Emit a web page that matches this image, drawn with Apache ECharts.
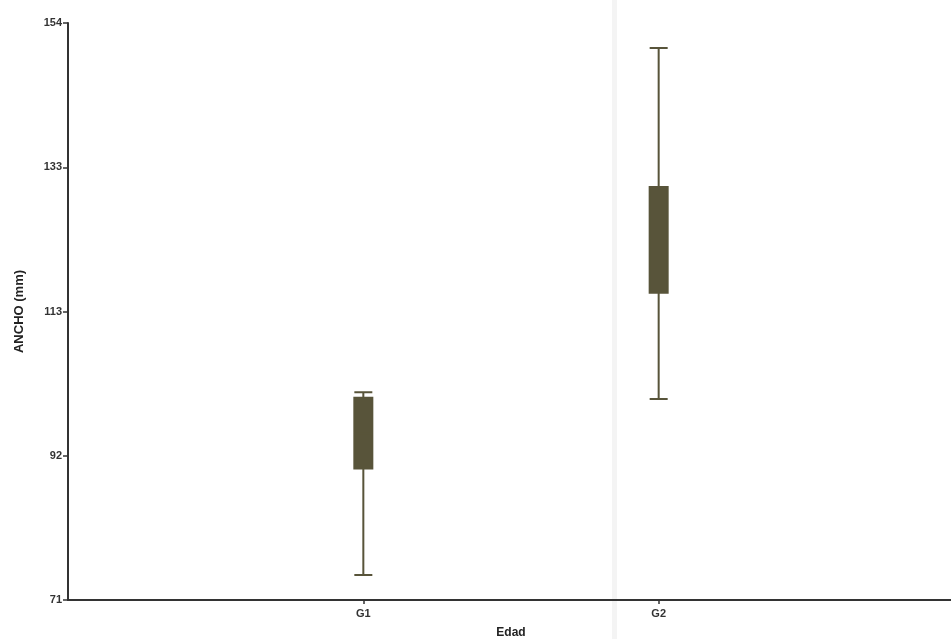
<!DOCTYPE html>
<html>
<head>
<meta charset="utf-8">
<script src="https://cdn.jsdelivr.net/npm/echarts@6/dist/echarts.min.js"></script>
<style>html,body{margin:0;padding:0;background:#fff}#c{width:951px;height:639px}</style>
</head>
<body>
<div id="c"></div>
<script>
// Categories (empty slots pad the axis so G1/G2 sit at 1/3 and 2/3)
const categories = ['', 'G1', 'G2', ''];
// Box values: [categoryIndex, min, Q1, median, Q3, max]
const g1Box = [1, 74.6, 89.9, 95.0, 100.1, 100.9];
const g2Box = [2, 99.9, 115.2, 123.0, 130.4, 150.4];
// Y axis ticks
const yTickValues = [71, 91.75, 112.5, 133.25, 154];
const yTickLabels = ['71', '92', '113', '133', '154'];

const chart = echarts.init(document.getElementById('c'), null, {renderer: 'canvas'});
const font = 'Liberation Sans, Arial, sans-serif';
const boxColor = '#58543a';
chart.setOption({
  animation: false,
  backgroundColor: '#ffffff',
  graphic: [{
    type: 'rect', z: -10, silent: true,
    shape: {x: 612, y: 0, width: 5, height: 639},
    style: {fill: '#f4f4f4'}
  }],
  grid: {left: 68, top: 23, right: -3, bottom: 39, containLabel: false, outerBoundsMode: 'none'},
  xAxis: {
    type: 'category',
    data: categories,
    boundaryGap: false,
    name: 'Edad',
    nameLocation: 'middle',
    nameGap: 27,
    nameTextStyle: {fontFamily: font, fontWeight: 'bold', fontSize: 12, color: '#222'},
    axisLine: {lineStyle: {color: '#333', width: 2}},
    axisTick: {show: true, length: 4, lineStyle: {color: '#333', width: 1.5},
      interval: function (i, v) { return v !== ''; }},
    axisLabel: {fontFamily: font, fontWeight: 'bold', fontSize: 11, color: '#333', margin: 8,
      interval: function (i, v) { return v !== ''; }},
    splitLine: {show: false}
  },
  yAxis: {
    type: 'value',
    min: 71,
    max: 154,
    name: 'ANCHO (mm)',
    nameLocation: 'middle',
    nameGap: 42,
    nameRotate: 90,
    nameTextStyle: {fontFamily: font, fontWeight: 'bold', fontSize: 13, color: '#222'},
    axisLine: {show: true, lineStyle: {color: '#333', width: 2}},
    axisTick: {show: true, length: 5, lineStyle: {color: '#333', width: 1.5}, customValues: yTickValues},
    axisLabel: {fontFamily: font, fontWeight: 'bold', fontSize: 11, color: '#333', margin: 6,
      customValues: yTickValues,
      formatter: function (v) {
        const i = yTickValues.findIndex(t => Math.abs(t - v) < 1e-6);
        return i >= 0 ? yTickLabels[i] : '';
      }},
    splitLine: {show: false}
  },
  series: [{
    type: 'boxplot',
    data: [g1Box, g2Box],
    encode: {x: 0, y: [1, 2, 3, 4, 5]},
    boxWidth: [18, 18],
    itemStyle: {color: boxColor, borderColor: boxColor, borderWidth: 2},
    emphasis: {disabled: true}
  }]
});
</script>
</body>
</html>
